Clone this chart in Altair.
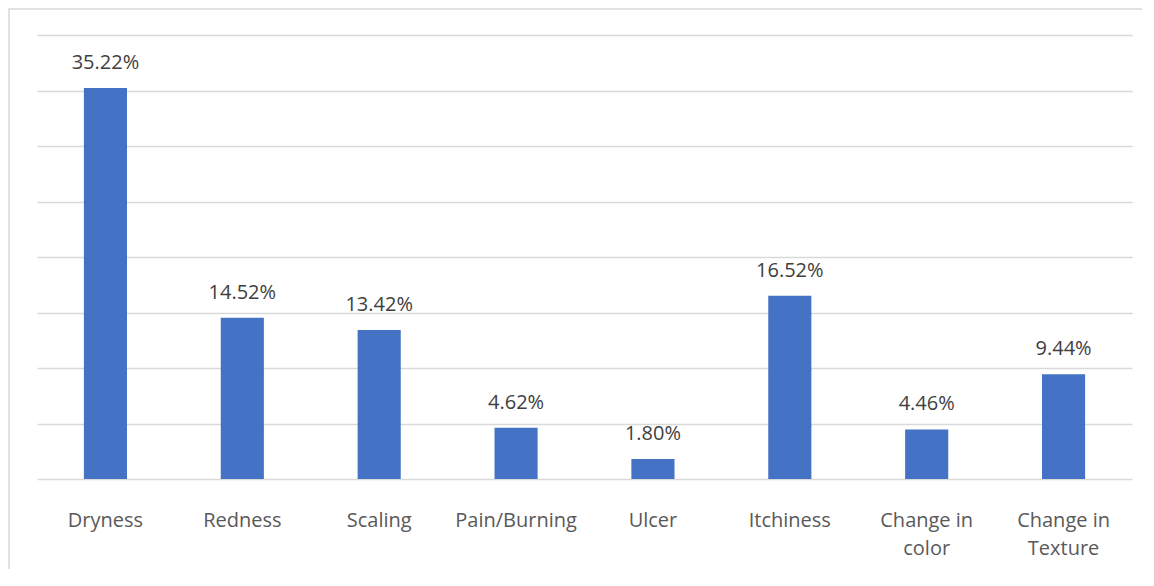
import altair as alt
import pandas as pd

categories = ["Dryness", "Redness", "Scaling", "Pain/Burning", "Ulcer",
              "Itchiness", "Change in\ncolor", "Change in\nTexture"]
values = [35.22, 14.52, 13.42, 4.62, 1.80, 16.52, 4.46, 9.44]
value_labels = ["35.22%", "14.52%", "13.42%", "4.62%", "1.80%", "16.52%", "4.46%", "9.44%"]
grid_values = [0, 5, 10, 15, 20, 25, 30, 35, 40]

df = pd.DataFrame({"cat": categories, "val": values, "lab": value_labels})

FONT = "Open Sans"

x = alt.X("cat:N", sort=categories, title=None,
          scale=alt.Scale(paddingInner=0.685, paddingOuter=0.3425),
          axis=alt.Axis(labelAngle=0, domain=False, ticks=False, labelPadding=41,
                        labelFont=FONT, labelFontSize=20, labelColor="#595959",
                        labelExpr="split(datum.label, '\\n')", labelLineHeight=28,
                        labelBaseline="middle"))
y = alt.Y("val:Q", title=None,
          scale=alt.Scale(domain=[0, 40], nice=False),
          axis=alt.Axis(values=grid_values, labels=False, ticks=False, domain=False,
                        grid=True, gridColor="#d9d9d9", gridWidth=1.5))

bars = alt.Chart(df).mark_bar(color="#4472C4").encode(x=x, y=y)
text = alt.Chart(df).mark_text(dy=-19, baseline="alphabetic", font=FONT,
                               fontSize=20, color="#404040").encode(
    x=alt.X("cat:N", sort=categories), y="val:Q", text="lab:N")

border = alt.Chart(pd.DataFrame({"a": [0]})).mark_rect(
    fill=None, stroke="#d9d9d9", strokeWidth=1.5).encode(
    x=alt.value(-28), x2=alt.value(1160), y=alt.value(-26), y2=alt.value(700))

chart = alt.layer(border, bars, text).properties(
    width=1095, height=444,
    background="white",
    autosize=alt.AutoSizeParams(type="none"),
    padding={"left": 29, "top": 27, "right": 10, "bottom": 90},
).configure_view(strokeWidth=0, stroke="transparent")

chart.save("out.html", embed_options={"renderer": "svg", "actions": False})
